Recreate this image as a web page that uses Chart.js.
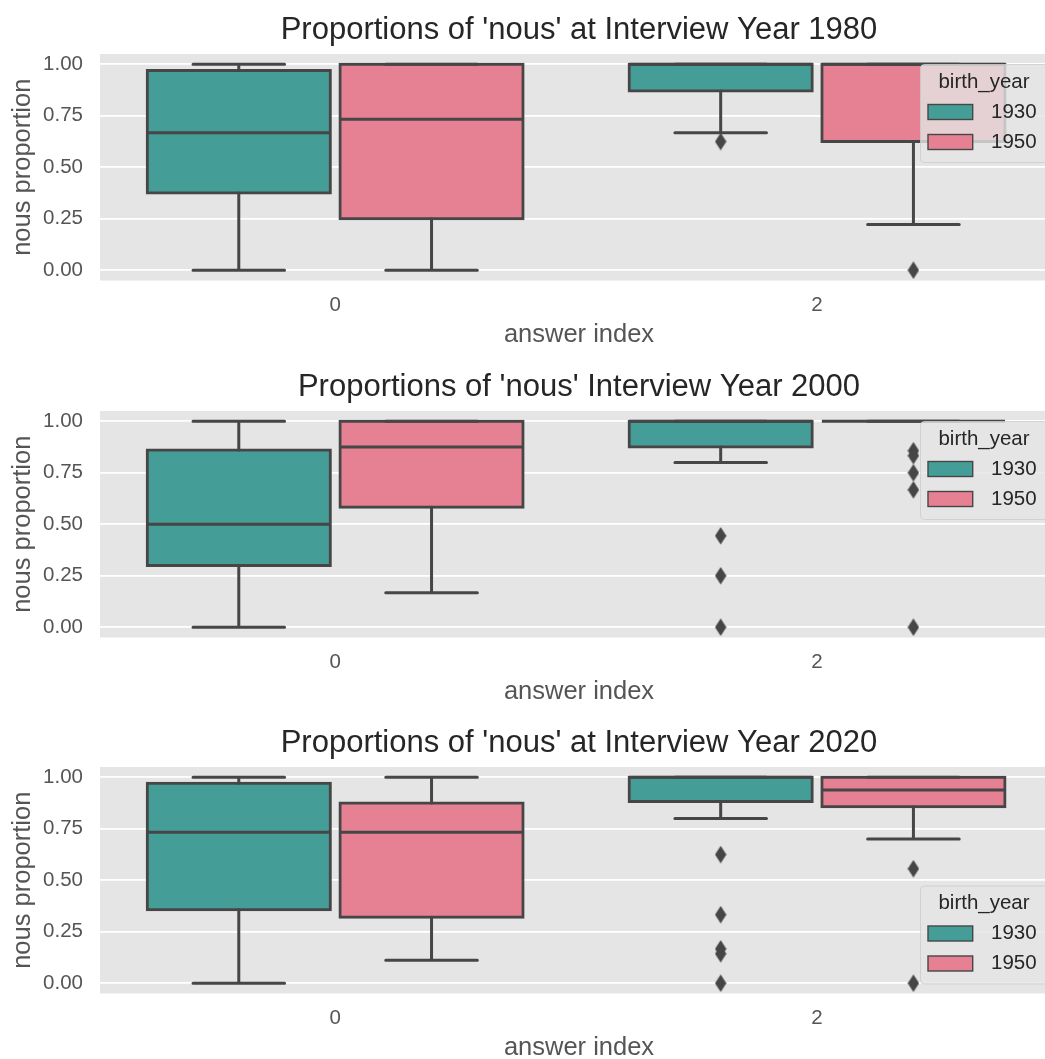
<!DOCTYPE html>
<html><head><meta charset="utf-8">
<script src="https://cdn.jsdelivr.net/npm/chart.js@4.4.1/dist/chart.umd.min.js"></script>
<style>
html,body{margin:0;padding:0;background:#fff;overflow:hidden;width:1045px;height:1059px;}
#wrap{position:relative;width:1058px;height:1059px;}
canvas{position:absolute;left:0;}
</style></head><body>
<div id="wrap">
<canvas id="c0" width="1058" height="356" style="top:0px"></canvas>
<canvas id="c1" width="1058" height="356" style="top:357px"></canvas>
<canvas id="c2" width="1058" height="356" style="top:713px"></canvas>
</div>
<script>
// ---------------- data ----------------
const panelTitles = [
  "Proportions of 'nous' at Interview Year 1980",
  "Proportions of 'nous' Interview Year 2000",
  "Proportions of 'nous' at Interview Year 2020"
];
const categories = ['0', '2'];
const hues = ['1930', '1950'];
const legendTitle = 'birth_year';
const xLabel = 'answer index';
const yLabel = 'nous proportion';
const yTickValues = [0, 0.25, 0.5, 0.75, 1];
const yTickLabels = ['0.00', '0.25', '0.50', '0.75', '1.00'];
// [panel][category] = [lowWhisker, q1, median, q3, highWhisker]
const boxes1930 = [
  [[0.0, 0.375, 0.667, 0.97, 1.0], [0.667, 0.87, 1.0, 1.0, 1.0]],
  [[0.0, 0.3, 0.5, 0.86, 1.0], [0.8, 0.875, 1.0, 1.0, 1.0]],
  [[0.0, 0.357, 0.733, 0.971, 1.0], [0.8, 0.882, 1.0, 1.0, 1.0]]
];
const boxes1950 = [
  [[0.0, 0.25, 0.733, 1.0, 1.0], [0.222, 0.625, 1.0, 1.0, 1.0]],
  [[0.167, 0.583, 0.875, 1.0, 1.0], [1.0, 1.0, 1.0, 1.0, 1.0]],
  [[0.111, 0.32, 0.733, 0.875, 1.0], [0.7, 0.857, 0.938, 1.0, 1.0]]
];
// [panel][category] = outlier values
const fliers1930 = [
  [[], [0.625]],
  [[], [0.444, 0.25, 0.0]],
  [[], [0.625, 0.333, 0.167, 0.143, 0.0]]
];
const fliers1950 = [
  [[], [0.0]],
  [[], [0.857, 0.833, 0.75, 0.667, 0.0]],
  [[], [0.556, 0.0]]
];
const legendCorner = ['upper right', 'upper right', 'lower right'];

// ---------------- style ----------------
const FONT = '"Liberation Sans", Arial, Helvetica, sans-serif';
const HUE_COLORS = ['#449E97', '#E68193'];
const LINE = '#464646';
const HUE_SHIFT = [-0.2, 0.2];
const BAR_PCT = 0.95;
const BOX_W = 0.4 * BAR_PCT;
const CAP_HALF = BOX_W / 4;

Chart.defaults.font.family = FONT;

const diamond = document.createElement('canvas');
diamond.width = 12; diamond.height = 18;
(function () {
  const d = diamond.getContext('2d');
  d.fillStyle = LINE;
  d.beginPath();
  d.moveTo(6, 0.3); d.lineTo(11.7, 9); d.lineTo(6, 17.7); d.lineTo(0.3, 9);
  d.closePath(); d.fill();
})();

const bgPlugin = {
  id: 'plotBg',
  beforeDraw(chart) {
    const a = chart.chartArea, c = chart.ctx;
    c.save();
    c.fillStyle = '#E5E5E5';
    c.fillRect(a.left, a.top, a.right - a.left, a.bottom - a.top);
    c.restore();
  }
};

const legendPlugin = {
  id: 'boxLegend',
  afterDraw(chart, args, opts) {
    const a = chart.chartArea, c = chart.ctx;
    const W = 128, H = 98, inset = 10;
    const x = a.right - inset - W;
    const y = opts.corner === 'lower right' ? a.bottom - inset - H : a.top + inset;
    c.save();
    c.beginPath();
    c.roundRect(x + 0.5, y + 0.5, W, H, 4);
    c.fillStyle = 'rgba(229,229,229,0.8)';
    c.fill();
    c.strokeStyle = 'rgba(204,204,204,0.8)';
    c.lineWidth = 1;
    c.stroke();
    c.font = '20.5px ' + FONT;
    c.textBaseline = 'middle';
    c.textAlign = 'center';
    c.fillStyle = '#262626';
    c.fillText(opts.title, x + W / 2, y + 18);
    opts.labels.forEach((lab, i) => {
      const cy = y + 48 + 30 * i;
      c.fillStyle = opts.colors[i];
      c.fillRect(x + 8, cy - 7.5, 44.7, 15);
      c.strokeStyle = LINE;
      c.lineWidth = 1.4;
      c.strokeRect(x + 8, cy - 7.5, 44.7, 15);
      c.fillStyle = '#262626';
      c.textAlign = 'left';
      c.fillText(lab, x + 71, cy);
    });
    c.restore();
  }
};

function buildDatasets(p) {
  const ds = [];
  [boxes1930, boxes1950].forEach((boxes, h) => {
    const stats = boxes[p];
    const pos = categories.map((c, i) => i + HUE_SHIFT[h]);
    ds.push({
      type: 'bar', label: hues[h],
      data: stats.map((s, i) => ({ x: pos[i], y: [s[1], s[3]] })),
      backgroundColor: HUE_COLORS[h], borderColor: LINE, borderWidth: 3,
      borderSkipped: false, inflateAmount: 1.5, grouped: false,
      categoryPercentage: 1, barPercentage: BAR_PCT, order: 4
    });
    const wh = [];
    stats.forEach((s, i) => {
      const x = pos[i];
      wh.push({ x, y: s[1] }, { x, y: s[0] }, { x, y: null },
              { x, y: s[3] }, { x, y: s[4] }, { x, y: null },
              { x: x - CAP_HALF, y: s[0] }, { x: x + CAP_HALF, y: s[0] }, { x, y: null },
              { x: x - CAP_HALF, y: s[4] }, { x: x + CAP_HALF, y: s[4] }, { x, y: null });
    });
    ds.push({ type: 'line', label: 'whiskers ' + hues[h], data: wh, borderColor: LINE, borderWidth: 3,
      pointRadius: 0, borderCapStyle: 'round', spanGaps: false, fill: false, tension: 0, order: 3 });
    const md = [];
    stats.forEach((s, i) => {
      const x = pos[i];
      md.push({ x: x - BOX_W / 2, y: s[2] }, { x: x + BOX_W / 2, y: s[2] }, { x, y: null });
    });
    ds.push({ type: 'line', label: 'median ' + hues[h], data: md, borderColor: LINE, borderWidth: 3,
      pointRadius: 0, borderCapStyle: 'butt', spanGaps: false, fill: false, tension: 0, order: 2 });
    const fl = [];
    [fliers1930, fliers1950][h][p].forEach((arr, i) => arr.forEach(v => fl.push({ x: pos[i], y: v })));
    ds.push({ type: 'scatter', label: 'outliers ' + hues[h], data: fl, pointStyle: diamond,
      pointRadius: 9, order: 1 });
  });
  return ds;
}

panelTitles.forEach((title, p) => {
  new Chart(document.getElementById('c' + p), {
    type: 'bar',
    data: { datasets: buildDatasets(p) },
    plugins: [bgPlugin, legendPlugin],
    options: {
      responsive: false,
      devicePixelRatio: 1,
      animation: false,
      events: [],
      layout: { padding: 0, autoPadding: false },
      plugins: {
        legend: { display: false },
        tooltip: { enabled: false },
        title: {
          display: true, text: title, fullSize: false,
          font: { size: 31, weight: 'normal' }, color: '#262626',
          padding: { top: 12.1, bottom: 4.7 }
        },
        boxLegend: { corner: legendCorner[p], title: legendTitle, labels: hues, colors: HUE_COLORS }
      },
      scales: {
        x: {
          type: 'linear', min: -0.488, max: 1.5, offset: false,
          grid: { display: false, drawTicks: false, offset: false },
          border: { display: false },
          afterBuildTicks: s => { s.ticks = categories.map((c, i) => ({ value: i })); },
          ticks: {
            callback: v => categories[v] ?? '', padding: 12.2, autoSkip: false, maxRotation: 0,
            font: { size: 20.5 }, color: '#555555'
          },
          title: { display: true, text: xLabel, font: { size: 25.5 }, color: '#555555', padding: { top: 0, bottom: 5.7 } },
          afterFit: s => { s.height = 75.5; }
        },
        y: {
          type: 'linear', min: -0.05, max: 1.05,
          grid: { color: '#FFFFFF', lineWidth: 1.7, drawTicks: false },
          border: { display: false },
          afterBuildTicks: s => { s.ticks = yTickValues.map(v => ({ value: v })); },
          ticks: {
            callback: v => yTickLabels[yTickValues.indexOf(v)], padding: 17,
            font: { size: 20.5 }, color: '#555555'
          },
          title: { display: true, text: yLabel, font: { size: 25.5 }, color: '#555555', padding: { top: 7.7, bottom: 0 } },
          afterFit: s => { s.width = 100; }
        }
      }
    }
  });
});
</script>
</body></html>
